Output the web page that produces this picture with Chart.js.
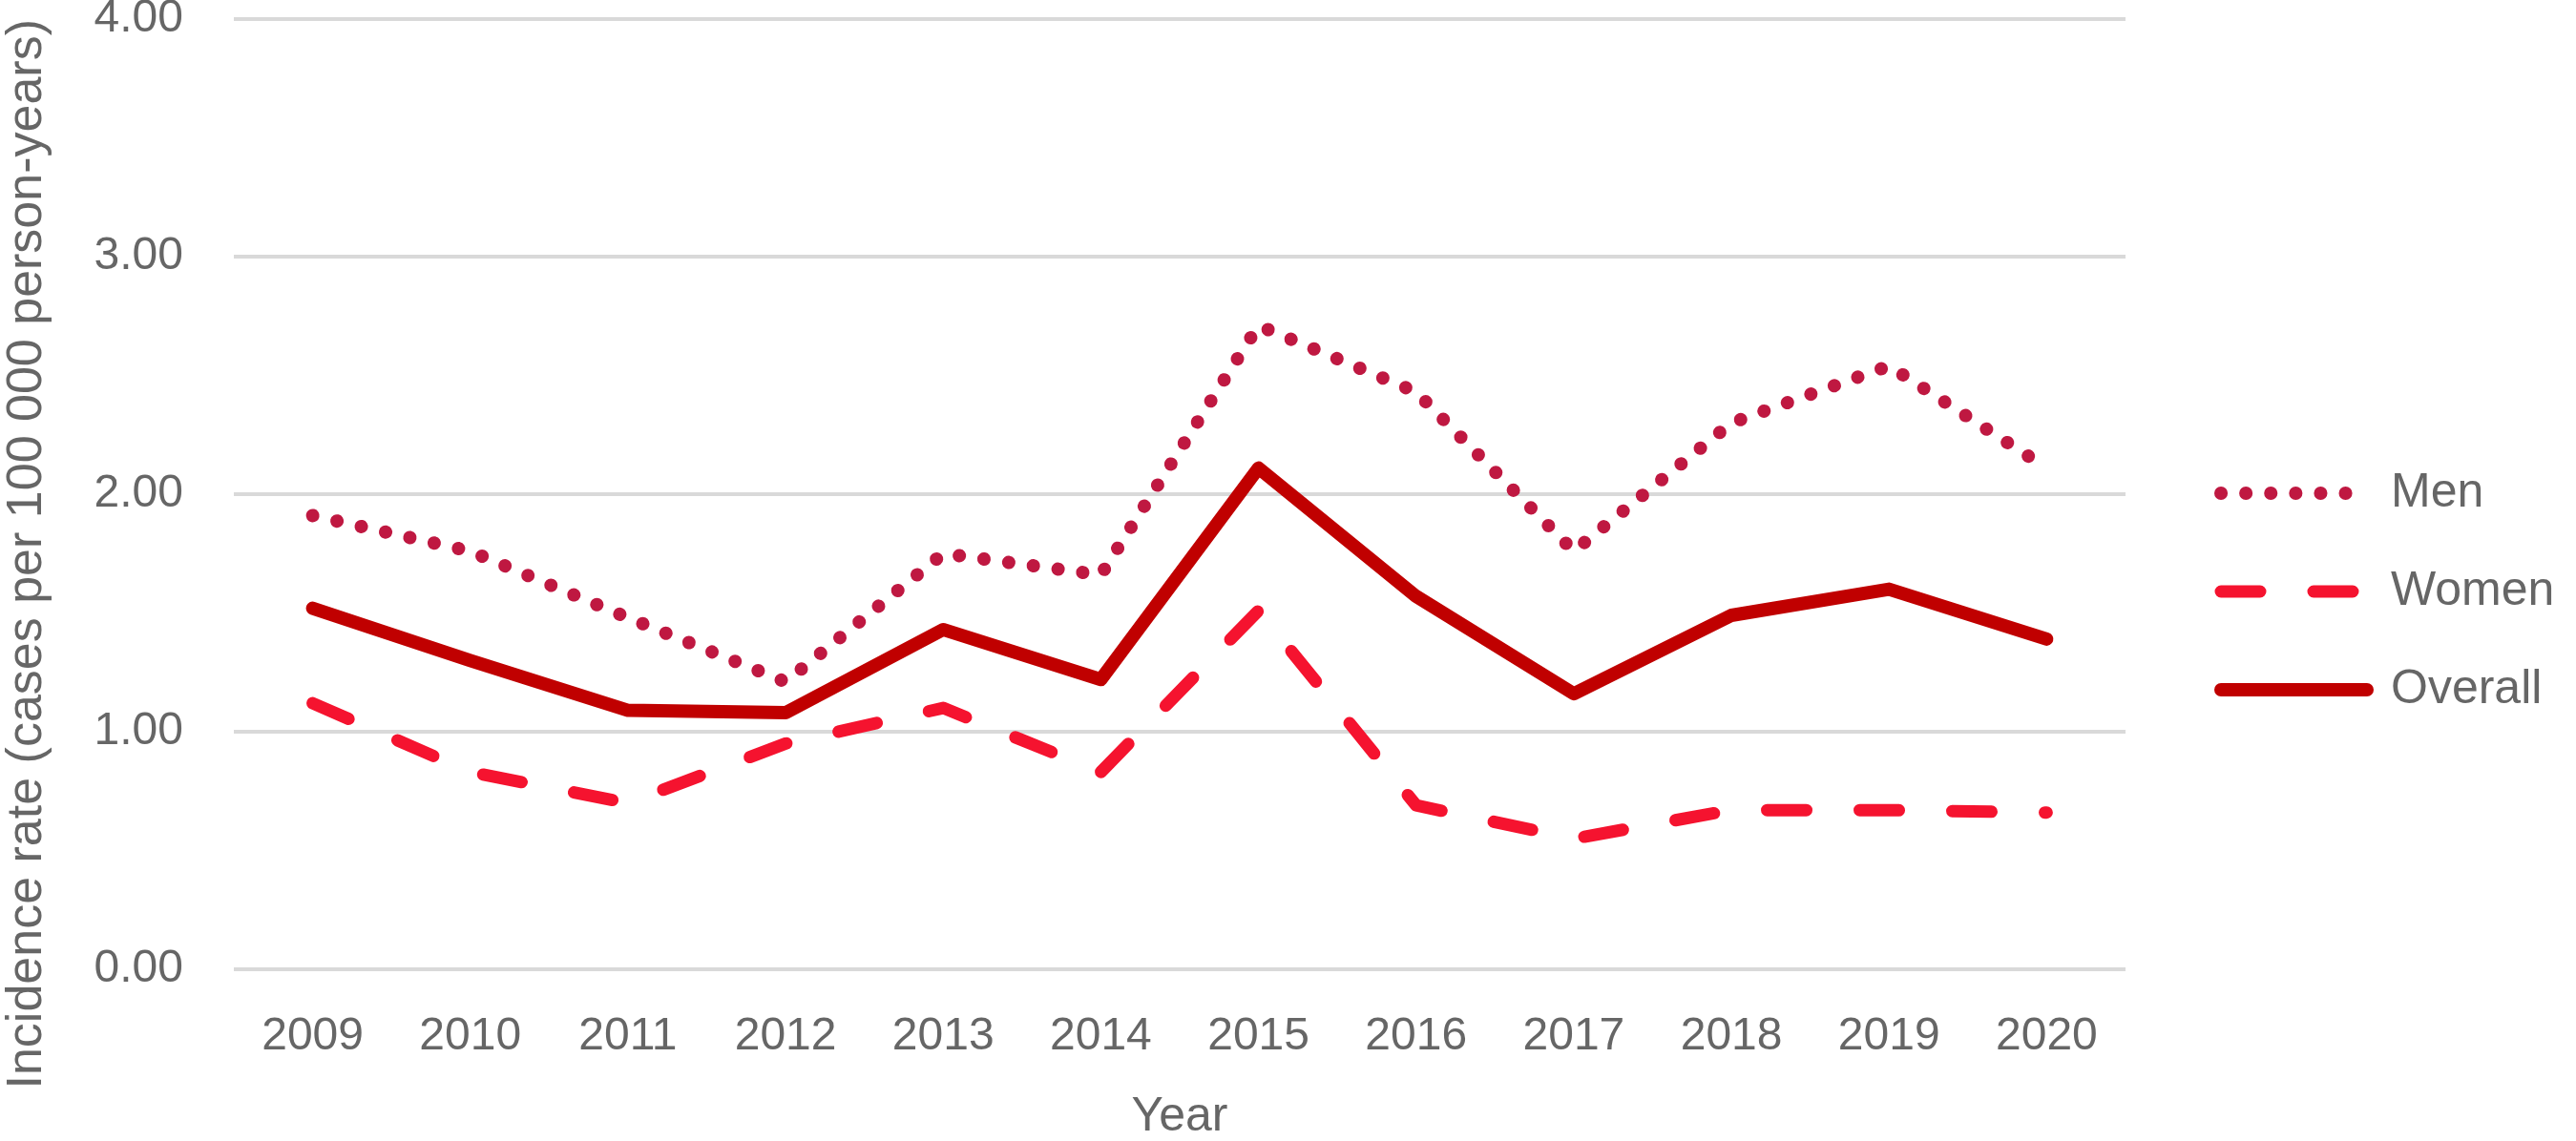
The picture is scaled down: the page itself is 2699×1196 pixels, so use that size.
<!DOCTYPE html>
<html>
<head>
<meta charset="utf-8">
<script src="https://cdn.jsdelivr.net/npm/chart.js@4.4.0/dist/chart.umd.min.js"></script>
<style>
  html, body { margin: 0; padding: 0; background: #fff; }
  #wrap { width: 2699px; height: 1196px; }
</style>
</head>
<body>
<div id="wrap"><canvas id="rateChart" width="2699" height="1196"></canvas></div>
<script>
// data
var years = ['2009', '2010', '2011', '2012', '2013', '2014', '2015', '2016', '2017', '2018', '2019', '2020'];
var men = [1.91, 1.76, 1.48, 1.21, 1.75, 1.66, 2.71, 2.43, 1.76, 2.30, 2.54, 2.11];
var women = [1.12, 0.83, 0.70, 0.95, 1.10, 0.83, 1.51, 0.69, 0.55, 0.67, 0.67, 0.66];
var overall = [1.52, 1.30, 1.09, 1.08, 1.43, 1.22, 2.11, 1.57, 1.16, 1.49, 1.60, 1.39];
var yTicks = [0, 1, 2, 3, 4];

var textColor = '#666666';
var fontFamily = "'Liberation Sans', Arial, sans-serif";

// legend sample: a short stroke with the dataset's own dash pattern
function lineSample(ds) {
    var c = document.createElement('canvas');
    c.width = 167;
    c.height = 20;
    var g = c.getContext('2d');
    g.strokeStyle = ds.borderColor;
    g.lineWidth = ds.borderWidth;
    g.lineCap = 'round';
    g.setLineDash(ds.borderDash || []);
    g.beginPath();
    g.moveTo(7, 10);
    g.lineTo(160, 10);
    g.stroke();
    return c;
}

// move the legend block next to the plot like in the original
var legendPlace = {
    id: 'legendPlace',
    afterLayout: function (chart) {
        var lg = chart.legend;
        lg.left = chart.chartArea.right + 47;
        lg.right = 2699;
        lg.width = lg.right - lg.left;
        lg.top = 439;
        lg.bottom = 1196;
        lg.height = lg.bottom - lg.top;
    }
};

var ctx = document.getElementById('rateChart').getContext('2d');
var rateChart = new Chart(ctx, {
    type: 'line',
    data: {
        labels: years,
        datasets: [{
            label: 'Men',
            data: men,
            borderColor: '#BF1841',
            backgroundColor: '#BF1841',
            borderWidth: 14,
            borderDash: [0.1, 26],
            borderCapStyle: 'round',
            borderJoinStyle: 'round',
            pointRadius: 0,
            tension: 0
        }, {
            label: 'Women',
            data: women,
            borderColor: '#F5132F',
            backgroundColor: '#F5132F',
            borderWidth: 13,
            borderDash: [41, 56],
            borderCapStyle: 'round',
            borderJoinStyle: 'round',
            pointRadius: 0,
            tension: 0
        }, {
            label: 'Overall',
            data: overall,
            borderColor: '#C00000',
            backgroundColor: '#C00000',
            borderWidth: 14,
            borderCapStyle: 'round',
            borderJoinStyle: 'round',
            pointRadius: 0,
            tension: 0
        }]
    },
    options: {
        responsive: false,
        animation: false,
        devicePixelRatio: 1,
        layout: { padding: { left: 0, top: 20, right: 72, bottom: 0 } },
        plugins: {
            legend: {
                position: 'right',
                align: 'start',
                fullSize: false,
                maxWidth: 400,
                labels: {
                    usePointStyle: true,
                    pointStyleWidth: 153,
                    padding: 53,
                    color: textColor,
                    font: { family: fontFamily, size: 50 },
                    generateLabels: function (chart) {
                        var items = Chart.defaults.plugins.legend.labels.generateLabels(chart);
                        items.forEach(function (item) {
                            item.pointStyle = lineSample(chart.data.datasets[item.datasetIndex]);
                        });
                        return items;
                    }
                }
            },
            tooltip: { enabled: false }
        },
        scales: {
            x: {
                offset: true,
                grid: { display: false, drawTicks: false },
                border: { display: false },
                ticks: {
                    color: textColor,
                    padding: 47,
                    maxRotation: 0,
                    font: { family: fontFamily, size: 48, lineHeight: 1 }
                },
                title: {
                    display: true,
                    text: 'Year',
                    color: textColor,
                    padding: 0,
                    font: { family: fontFamily, size: 50, lineHeight: 1 }
                },
                afterFit: function (axis) {
                    axis.height = 180;
                }
            },
            y: {
                min: 0,
                max: 4,
                grid: { color: '#D9D9D9', lineWidth: 4, drawTicks: false },
                border: { display: false },
                afterBuildTicks: function (axis) {
                    axis.ticks = yTicks.map(function (v) { return { value: v }; });
                },
                ticks: {
                    color: textColor,
                    padding: 53,
                    font: { family: fontFamily, size: 48 },
                    callback: function (v) { return Number(v).toFixed(2); }
                },
                title: {
                    display: true,
                    text: 'Incidence rate (cases per 100 000 person-years)',
                    align: 'end',
                    color: textColor,
                    padding: { top: 3, bottom: 0 },
                    font: { family: fontFamily, size: 52, lineHeight: 1 }
                },
                afterFit: function (axis) {
                    axis.width = 245;
                    axis.paddingTop = 0;
                    axis.paddingBottom = 0;
                }
            }
        }
    },
    plugins: [legendPlace]
});
</script>
</body>
</html>
